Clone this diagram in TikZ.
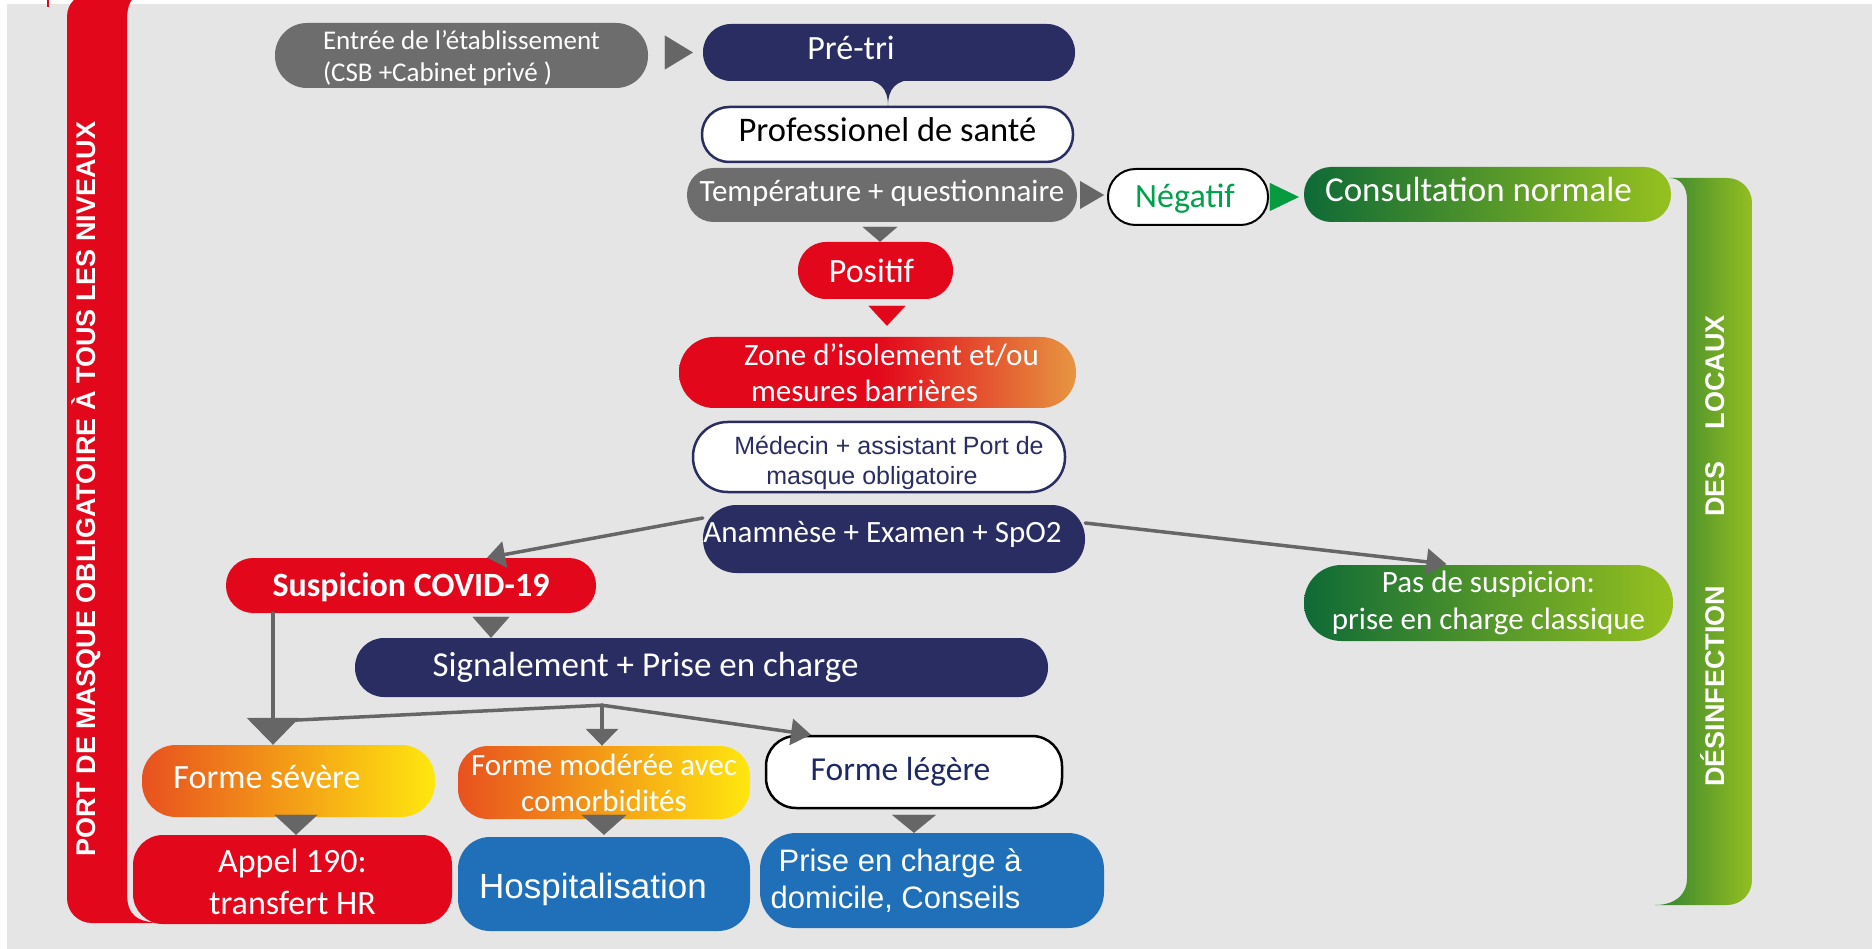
\documentclass[tikz,border=0pt]{standalone}
\usepackage{fontspec}
\setmainfont{Carlito}
\newfontfamily\arialf{Liberation Sans}
\usetikzlibrary{arrows.meta,calc}
\definecolor{bgc}{HTML}{E5E5E5}
\definecolor{cnavy}{HTML}{2A2D62}
\definecolor{cgray}{HTML}{6D6D6D}
\definecolor{cred}{HTML}{E3071B}
\definecolor{cblue}{HTML}{1F70B8}
\definecolor{cgd}{HTML}{0E6A36}
\definecolor{cgl}{HTML}{96C11F}
\definecolor{cbd}{HTML}{318034}
\definecolor{cbl}{HTML}{93BF20}
\definecolor{corange}{HTML}{E8511F}
\definecolor{cyellow}{HTML}{FFE70F}
\definecolor{czo}{HTML}{E69641}
\definecolor{cneg}{HTML}{00A14B}
\definecolor{cgarrow}{HTML}{079B3F}
\definecolor{carrow}{HTML}{666666}
\definecolor{cleg}{HTML}{1E2864}
\newcommand{\fsz}[2]{\fontsize{#1}{#2}\selectfont}
\newcommand{\shiftv}[2]{\raisebox{#1}[\height][\depth]{#2}}
\pgfdeclarehorizontalshading{zoneshade}{100bp}{color(0bp)=(cred); color(50bp)=(cred); color(75bp)=(czo); color(100bp)=(czo)}
\begin{document}
\begin{tikzpicture}[x=1pt,y=-1pt,
  pill/.style n args={3}{rectangle, minimum width=#1pt, minimum height=#2pt, rounded corners=#3pt, inner sep=0pt, align=center, text=white},
  barr/.style n args={3}{draw=#1, line width=0.1pt, -{Triangle[length=#2pt, width=#3pt]}},
  larr/.style 2 args={draw=carrow, line width=3.5pt, line cap=round, -{Triangle[length=#1pt, width=#2pt]}},
  lline/.style={draw=carrow, line width=3.5pt, line cap=round},
  vtext/.style={rotate=90, anchor=west, inner sep=0pt, text=white, font=\arialf\bfseries\fsz{27}{30}}]
\useasboundingbox (0,0) rectangle (1872,949);
\fill[white] (0,0) rectangle (1872,949);
\fill[bgc] (7,4) rectangle (1872,949);
\draw[cred, line width=1.5pt] (48,0) -- (48,7);
% red bar
\fill[cred] (90,-6) -- (142,-6) .. controls (131,-4) and (127,5) .. (127,20) -- (127,893) .. controls (127,915) and (136,923) .. (165,923) -- (92,923) .. controls (78,923) and (67,912) .. (67,898) -- (67,17) .. controls (67,3) and (77,-6) .. (90,-6) -- cycle;
\node[vtext] (porttxt) at (86,857) {PORT DE MASQUE OBLIGATOIRE À TOUS LES NIVEAUX};
% green bar
\shade[left color=cbd, right color=cbl] (1669,178) -- (1727,178) .. controls (1741,178) and (1752,189) .. (1752,203) -- (1752,880) .. controls (1752,894) and (1741,905) .. (1727,905) -- (1655,905) .. controls (1675,905) and (1687,895) .. (1687,878) -- (1687,200) .. controls (1687,186) and (1680,178) .. (1669,178) -- cycle;
\node[vtext] (desinf) at (1713,787) {DÉSINFECTION\hspace{69pt}DES\hspace{32pt}LOCAUX};
% nodes
\node[pill={373}{65}{32}, fill=cgray, font=\fsz{27}{32}, align=left] (entree) at (461.5,55.5) {\shiftv{-3pt}{Entrée de l’établissement}\\\shiftv{-3pt}{(CSB +Cabinet privé )}};
\node[pill={372}{57}{28}, fill=cnavy, font=\fsz{34}{40}] (pretri) at (889,52.5) {\shiftv{5pt}{Pré-tri}\hspace{76pt}};
\node[pill={371}{55}{27}, fill=white, draw=cnavy, line width=2.5pt, text=black, font=\fsz{34.5}{40}] (prof) at (887.5,134.5) {\shiftv{5pt}{Professionel de santé}};
\fill[cnavy] ($(pretri.south)+(-28,-2)$) .. controls ($(pretri.south)+(-9,-1)$) and ($(pretri.south)+(-1,7)$) .. ($(pretri.south)+(-1,25)$) .. controls ($(pretri.south)+(-1,7)$) and ($(pretri.south)+(7,-1)$) .. ($(pretri.south)+(26,-2)$) -- cycle;
\node[pill={390}{54}{26.5}, fill=cgray, font=\fsz{31}{36}] (temp) at (882,195) {\shiftv{2pt}{Température + questionnaire}};
\node[pill={160}{56}{27.5}, fill=white, draw=black, line width=2pt, text=cneg, font=\fsz{34}{40}] (negatif) at (1188,197) {\shiftv{-2pt}{Négatif}\hspace{6pt}};
\node[pill={367}{55}{27}, left color=cgd, right color=cgl, font=\fsz{35}{40}] (consult) at (1487.5,194.5) {\shiftv{5pt}{Consultation normale}\hspace{18pt}};
\node[pill={155}{57}{28}, fill=cred, font=\fsz{34}{40}] (positif) at (875.5,270.5) {Positif\hspace{8pt}};
\node[pill={397}{71}{35}, shade, shading=zoneshade, shading angle=0, font=\fsz{31}{36}, align=left] (zone) at (877.5,372.5) {\hspace*{28pt}Zone d’isolement et/ou\\\hspace*{35pt}mesures barrières};
\node[pill={372}{70}{34.5}, fill=white, draw=cnavy, line width=2.5pt, text=cnavy, font=\arialf\fsz{25}{30}, align=left] (medecin) at (879,457) {\shiftv{-6pt}{\hspace*{20pt}Médecin + assistant Port de}\\\shiftv{-6pt}{\hspace*{52pt}masque obligatoire}};
\node[pill={382}{68}{33.5}, fill=cnavy, font=\fsz{31}{36}] (anamnese) at (894,539) {\shiftv{5pt}{Anamnèse + Examen + SpO2}\hspace{23pt}};
\node[pill={369}{76}{37.5}, left color=cgd, right color=cgl, font=\fsz{31}{37}] (passusp) at (1488.5,603) {Pas de suspicion:\\prise en charge classique};
\node[pill={370}{55}{27}, fill=cred, font=\bfseries\fsz{34}{40}] (suspicion) at (411,585.5) {\shiftv{-2pt}{Suspicion COVID-19}};
\node[pill={693}{59}{29}, fill=cnavy, font=\fsz{35}{40}] (signal) at (701.5,667.5) {Signalement + Prise en charge\hspace{112pt}};
\node[pill={293}{72}{34}, left color=corange, right color=cyellow, font=\fsz{34}{40}] (severe) at (288.5,781) {\shiftv{4pt}{Forme sévère}\hspace{43pt}};
\node[pill={292}{73}{30}, left color=corange, right color=cyellow, font=\fsz{31}{36}] (moderee) at (604,782.5) {Forme modérée avec\\comorbidités};
\node[pill={296}{72}{30}, fill=white, draw=black, line width=2.5pt, text=cleg, font=\fsz{33.5}{40}] (legere) at (914,772) {Forme légère\hspace{27pt}};
\node[pill={319}{89}{30}, fill=cred, font=\fsz{34}{42}] (appel) at (292.5,879.5) {\shiftv{-2pt}{Appel 190:}\\\shiftv{-2pt}{transfert HR}};
\node[pill={292}{94}{32}, fill=cblue, font=\arialf\fsz{35}{40}] (hosp) at (604,884) {\shiftv{-5pt}{Hospitalisation}\hspace{22pt}};
\node[pill={344}{95}{36}, fill=cblue, font=\arialf\fsz{31}{37}, align=left] (prise) at (932,880.5) {\hspace*{8pt}Prise en charge à\\domicile, Conseils\hspace*{73pt}};
% coordinates
\coordinate (sv) at ($(suspicion.south)+(-138,0)$);
\coordinate (jn) at ($(sv)+(0,108)$);
\coordinate (br) at ($(signal.south)+(-99.5,8)$);
\coordinate (a4) at ($(temp.south)+(-2,0)$);
\coordinate (a5) at ($(positif.south)+(11.5,0)$);
\coordinate (a6) at ($(suspicion.south)+(80,0)$);
\coordinate (a7) at ($(severe.south)+(7.5,0)$);
% block arrows
\draw[barr={carrow}{28}{34}, shorten <=17pt, shorten >=10pt] (entree.east |- pretri.west) -- (pretri.west);
\draw[barr={carrow}{24}{28}, shorten <=4pt, shorten >=3pt] (temp.east) -- (temp.east -| negatif.west);
\draw[barr={cgarrow}{29}{28}, shorten <=2pt, shorten >=5pt] (negatif.east) -- (negatif.east -| consult.west);
\draw[barr={carrow}{15}{35}, shorten <=5pt] (a4) -- (a4 |- positif.north);
\draw[barr={cred}{20}{37}, shorten <=7pt, shorten >=11pt] (a5) -- (a5 |- zone.north);
\draw[barr={carrow}{21}{37}, shorten <=4pt] (a6) -- (a6 |- signal.north);
\draw[barr={carrow}{20}{43}, shorten <=-2pt] (a7) -- (a7 |- appel.north);
\draw[barr={carrow}{20}{45}, shorten <=-4pt, shorten >=2pt] (moderee.south) -- (moderee.south |- hosp.north);
\draw[barr={carrow}{18}{44}, shorten <=7pt] (legere.south) -- (legere.south |- prise.north);
% line arrows
\draw[larr={18}{26}] ($(anamnese.west)+(0,-21)$) -- ($(suspicion.north)+(76,0)$);
\draw[larr={20}{26}, shorten >=6pt] ($(anamnese.east)+(0,-16)$) -- ($(passusp.north)+(-36,0)$);
\draw[larr={27}{52}] (sv) -- (sv |- severe.north);
\draw[lline] (br) -- (jn);
\draw[larr={17}{32}] (br) -- (br |- moderee.north);
\draw[larr={20}{26}] (br) -- ($(legere.north)+(-103,0)$);
\end{tikzpicture}
\end{document}
